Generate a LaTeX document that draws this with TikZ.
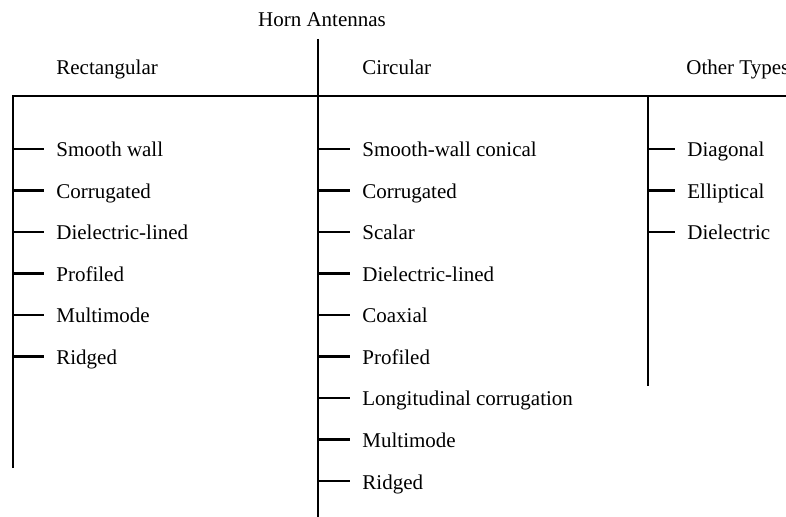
\documentclass[tikz,border=0pt]{standalone}
\usepackage{fontspec}
\setmainfont{Liberation Serif}
\usetikzlibrary{positioning}

\begin{document}
\begin{tikzpicture}[x=0.5pt,y=-0.5pt,
    txt/.style={anchor=base west,inner sep=0pt,font=\fontsize{10.5}{12}\selectfont},
    trunk/.style={line width=1.4pt},
    tick/.style={line width=1.4pt,shorten >=6pt}]
  \useasboundingbox (0,0) rectangle (786,517);
  % title and the three groups
  \node[txt,anchor=base] (horn) at (322,27) {Horn Antennas};
  \node[txt] (rect) at (56,75) {Rectangular};
  \node[txt] (circ) at (362,75) {Circular};
  \node[txt] (other) at (686,75) {Other Types};
  \coordinate (top) at (318,39);
  \coordinate (rectbot) at (13,468);
  \coordinate (circbot) at (318,520);
  \coordinate (otherbot) at (648,386);
  \coordinate (barend) at (790,96);
  \draw[trunk] (rectbot) -- (rectbot |- barend) -- (barend);
  \draw[trunk] (top) -- (circbot);
  \draw[trunk] (otherbot) -- (otherbot |- barend);
  % rectangular
  \foreach \t [count=\i] in {Smooth wall,Corrugated,Dielectric-lined,Profiled,Multimode,Ridged}
  {
    \node[txt] (rect\i) at (56,{115.5+41.5*\i}) {\t};
    \draw[tick] ([yshift=4pt]rect\i.base west -| rectbot) -- ([yshift=4pt]rect\i.base west);
  }
  % circular
  \foreach \t [count=\i] in {Smooth-wall conical,Corrugated,Scalar,Dielectric-lined,Coaxial,Profiled,Longitudinal corrugation,Multimode,Ridged}
  {
    \node[txt] (circ\i) at (362,{115.5+41.5*\i}) {\t};
    \draw[tick] ([yshift=4pt]circ\i.base west -| top) -- ([yshift=4pt]circ\i.base west);
  }
  % other types
  \foreach \t [count=\i] in {Diagonal,Elliptical,Dielectric}
  {
    \node[txt] (other\i) at (687,{115.5+41.5*\i}) {\t};
    \draw[tick] ([yshift=4pt]other\i.base west -| otherbot) -- ([yshift=4pt]other\i.base west);
  }
\end{tikzpicture}
\end{document}
